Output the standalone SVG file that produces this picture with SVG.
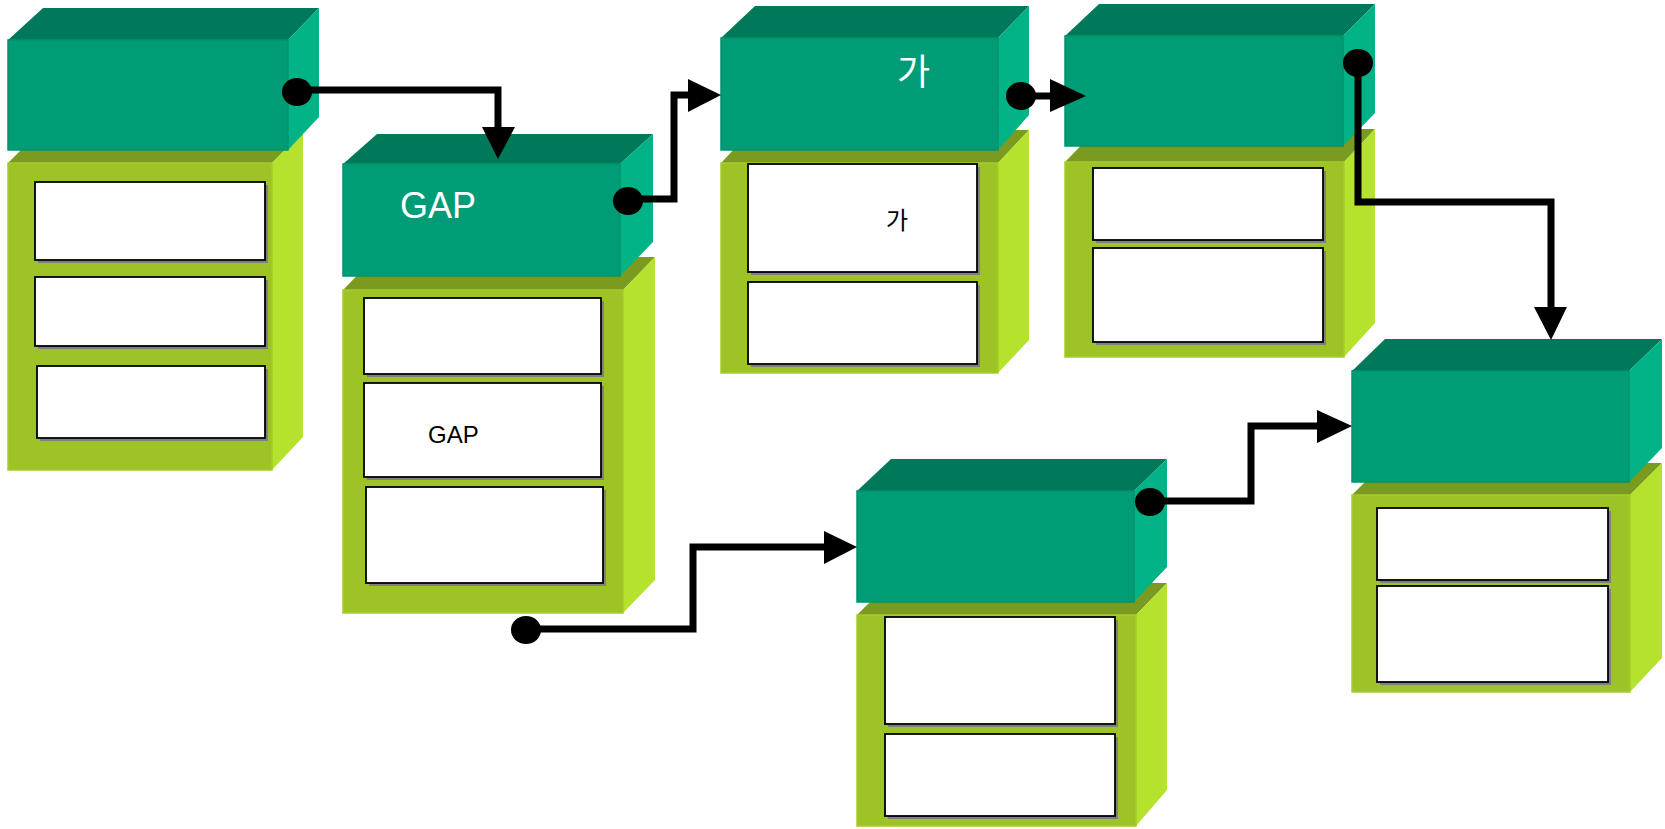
<svg xmlns="http://www.w3.org/2000/svg" width="1665" height="829" viewBox="0 0 1665 829">
<style>
.tf{fill:#009C76;stroke:#00926E;stroke-width:1.5}
.tt{fill:#00785A}
.ts{fill:#00B386}
.gf{fill:#9DC326;stroke:#A6CC2A;stroke-width:1.5}
.gt{fill:#7A9A20}
.gs{fill:#B5E22D}
.sh{fill:#808080}
.wb{fill:#FFFFFF;stroke:#000000;stroke-width:1.8}
.lbl{font-family:"Liberation Sans",Arial,sans-serif}
.kr{font-family:"Noto Sans CJK KR","Noto Sans CJK SC",sans-serif}
.ln{fill:none;stroke:#000000;stroke-width:7;stroke-linejoin:miter}
.ah{fill:#000000}
.dot{fill:#000000}
</style>
<rect width="1665" height="829" fill="#FFFFFF"/>

<g id="node1">
  <polygon class="gt" points="8,163 39,132 303,132 272,163"/>
  <polygon class="gs" points="272,163 303,132 303,437 272,470"/>
  <rect class="gf" x="8" y="163" width="264" height="307"/>
  <polygon class="tt" points="8,40 43,8 319,8 288,40"/>
  <polygon class="ts" points="288,40 319,8 319,117 288,150"/>
  <rect class="tf" x="8" y="40" width="280" height="110"/>
  <rect class="sh" x="38" y="185" width="230" height="78"/>
  <rect class="wb" x="35" y="182" width="230" height="78"/>
  <rect class="sh" x="38" y="280" width="230" height="69"/>
  <rect class="wb" x="35" y="277" width="230" height="69"/>
  <rect class="sh" x="40" y="369" width="228" height="72"/>
  <rect class="wb" x="37" y="366" width="228" height="72"/>
</g>

<g id="node2">
  <polygon class="gt" points="343,290 375,257 655,257 623,290"/>
  <polygon class="gs" points="623,290 655,257 655,580 623,613"/>
  <rect class="gf" x="343" y="290" width="280" height="323"/>
  <polygon class="tt" points="343,164 377,134 653,134 620,164"/>
  <polygon class="ts" points="620,164 653,134 653,242 620,276"/>
  <rect class="tf" x="343" y="164" width="277" height="112"/>
  <text class="lbl" x="400" y="218" font-size="36" fill="#FFFFFF">GAP</text>
  <rect class="sh" x="367" y="301" width="237" height="76"/>
  <rect class="wb" x="364" y="298" width="237" height="76"/>
  <rect class="sh" x="367" y="386" width="237" height="94"/>
  <rect class="wb" x="364" y="383" width="237" height="94"/>
  <text class="lbl" x="428" y="443" font-size="24" fill="#000000">GAP</text>
  <rect class="sh" x="369" y="490" width="237" height="96"/>
  <rect class="wb" x="366" y="487" width="237" height="96"/>
</g>

<g id="node3">
  <polygon class="gt" points="721,163 752,130 1029,130 998,163"/>
  <polygon class="gs" points="998,163 1029,130 1029,340 998,373"/>
  <rect class="gf" x="721" y="163" width="277" height="210"/>
  <polygon class="tt" points="721,38 755,6 1029,6 998,38"/>
  <polygon class="ts" points="998,38 1029,6 1029,115 998,150"/>
  <rect class="tf" x="721" y="38" width="277" height="112"/>
  <text class="kr" x="897" y="85" font-size="36" fill="#FFFFFF">가</text>
  <rect class="sh" x="751" y="167" width="229" height="108"/>
  <rect class="wb" x="748" y="164" width="229" height="108"/>
  <text class="kr" x="886" y="229" font-size="24" fill="#000000">가</text>
  <rect class="sh" x="751" y="285" width="229" height="82"/>
  <rect class="wb" x="748" y="282" width="229" height="82"/>
</g>

<g id="node4">
  <polygon class="gt" points="1065,162 1097,129 1375,129 1344,162"/>
  <polygon class="gs" points="1344,162 1375,129 1375,323 1344,357"/>
  <rect class="gf" x="1065" y="162" width="279" height="195"/>
  <polygon class="tt" points="1065,36 1099,4 1375,4 1343,36"/>
  <polygon class="ts" points="1343,36 1375,4 1375,113 1343,146"/>
  <rect class="tf" x="1065" y="36" width="278" height="110"/>
  <rect class="sh" x="1096" y="171" width="230" height="72"/>
  <rect class="wb" x="1093" y="168" width="230" height="72"/>
  <rect class="sh" x="1096" y="251" width="230" height="94"/>
  <rect class="wb" x="1093" y="248" width="230" height="94"/>
</g>

<g id="node5">
  <polygon class="gt" points="1352,495 1384,463 1662,463 1630,495"/>
  <polygon class="gs" points="1630,495 1662,463 1662,658 1630,692"/>
  <rect class="gf" x="1352" y="495" width="278" height="197"/>
  <polygon class="tt" points="1352,371 1385,339 1662,339 1629,371"/>
  <polygon class="ts" points="1629,371 1662,339 1662,448 1629,482"/>
  <rect class="tf" x="1352" y="371" width="277" height="111"/>
  <rect class="sh" x="1380" y="511" width="231" height="72"/>
  <rect class="wb" x="1377" y="508" width="231" height="72"/>
  <rect class="sh" x="1380" y="589" width="231" height="96"/>
  <rect class="wb" x="1377" y="586" width="231" height="96"/>
</g>

<g id="node6">
  <polygon class="gt" points="857,615 889,583 1167,583 1136,615"/>
  <polygon class="gs" points="1136,615 1167,583 1167,790 1136,826"/>
  <rect class="gf" x="857" y="615" width="279" height="211"/>
  <polygon class="tt" points="857,491 891,459 1167,459 1134,491"/>
  <polygon class="ts" points="1134,491 1167,459 1167,567 1134,602"/>
  <rect class="tf" x="857" y="491" width="277" height="111"/>
  <rect class="sh" x="888" y="620" width="230" height="107"/>
  <rect class="wb" x="885" y="617" width="230" height="107"/>
  <rect class="sh" x="888" y="737" width="230" height="82"/>
  <rect class="wb" x="885" y="734" width="230" height="82"/>
</g>

<g id="connectors">
  <path class="ln" d="M297,90 H498 V130"/>
  <polygon class="ah" points="482,127 515,127 498,159"/>
  <ellipse class="dot" cx="297" cy="92" rx="15" ry="14"/>

  <path class="ln" d="M628,199 H674 V95 H692"/>
  <polygon class="ah" points="688,79 688,112 721,95"/>
  <ellipse class="dot" cx="628" cy="201" rx="15" ry="14"/>

  <path class="ln" d="M1021,96 H1053"/>
  <polygon class="ah" points="1050,79 1050,112 1086,96"/>
  <ellipse class="dot" cx="1021" cy="96" rx="15" ry="14"/>

  <path class="ln" d="M1358,63 V202 H1551 V310"/>
  <polygon class="ah" points="1534,307 1567,307 1551,340"/>
  <ellipse class="dot" cx="1358" cy="63" rx="15" ry="14"/>

  <path class="ln" d="M526,629 H693 V547 H827"/>
  <polygon class="ah" points="824,531 824,564 857,547"/>
  <ellipse class="dot" cx="526" cy="630" rx="15" ry="14"/>

  <path class="ln" d="M1150,501 H1251 V426 H1320"/>
  <polygon class="ah" points="1317,410 1317,443 1352,426"/>
  <ellipse class="dot" cx="1150" cy="502" rx="15" ry="14"/>
</g>
</svg>
